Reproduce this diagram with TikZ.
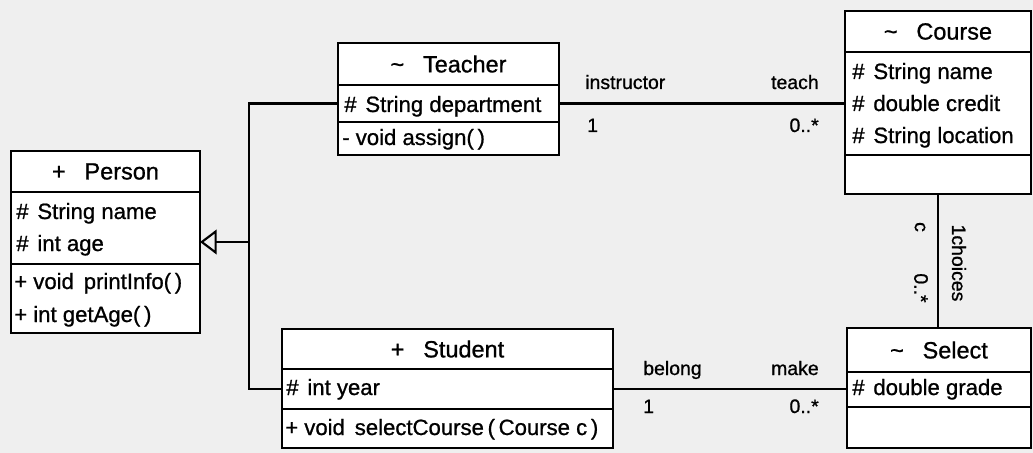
\documentclass[tikz,border=0pt]{standalone}
\usepackage{fontspec}
\setmainfont{Liberation Sans}[FakeBold=0.9]
\usetikzlibrary{arrows.meta}
\definecolor{bgc}{HTML}{EFEFEF}
\begin{document}
\begin{tikzpicture}[x=0.75pt,y=-0.75pt,
  comp/.style={draw, fill=white, line width=2pt, anchor=north west, inner sep=0pt, outer sep=0pt},
  head/.style={comp, font=\fontsize{17.6}{20}\selectfont},
  mem/.style={anchor=base west, inner sep=0pt, font=\fontsize{16.6}{20}\selectfont},
  lbl/.style={inner sep=0pt, font=\fontsize{14.6}{17}\selectfont},
  lblL/.style={lbl, anchor=base west},
  lblR/.style={lbl, anchor=base east},
  conn/.style={line width=1.6pt},
  gen/.style={conn, -{Triangle[open, length=12.5pt, width=18.5pt, line width=1.6pt]}}]
\fill[bgc] (0,0) rectangle (1033,453);
\useasboundingbox (0,0) rectangle (1033,453);

% Person
\node[head, minimum width=189*0.75pt, minimum height=41*0.75pt] (personH) at (11,151) {+\hspace{0.8em}Person};
\node[comp, minimum width=189*0.75pt, minimum height=72*0.75pt] (personA) at (11,192) {};
\node[comp, minimum width=189*0.75pt, minimum height=69*0.75pt] (personO) at (11,264) {};
\node[mem] (p1) at (16,219) {\#\hspace{0.4em}String name};
\node[mem] (p2) at (16,251) {\#\hspace{0.4em}int age};
\node[mem] (p3) at (14,289) {+ void\, printInfo(\,)};
\node[mem] (p4) at (14,322) {+ int getAge(\,)};

% Teacher
\node[head, minimum width=221*0.75pt, minimum height=42*0.75pt] (teacherH) at (338,43) {\textasciitilde\hspace{0.8em}Teacher};
\node[comp, minimum width=221*0.75pt, minimum height=37*0.75pt] (teacherA) at (338,85) {};
\node[comp, minimum width=221*0.75pt, minimum height=33*0.75pt] (teacherO) at (338,122) {};
\node[mem] (t1) at (344,112) {\#\hspace{0.4em}String department};
\node[mem] (t2) at (342,145) {- void assign(\,)};

% Course
\node[head, minimum width=186*0.75pt, minimum height=41*0.75pt] (courseH) at (845,11) {\textasciitilde\hspace{0.8em}Course};
\node[comp, minimum width=186*0.75pt, minimum height=103*0.75pt] (courseA) at (845,52) {};
\node[comp, minimum width=186*0.75pt, minimum height=39*0.75pt] (courseO) at (845,155) {};
\node[mem] (c1) at (852,79) {\#\hspace{0.4em}String name};
\node[mem] (c2) at (852,111) {\#\hspace{0.4em}double credit};
\node[mem] (c3) at (852,143) {\#\hspace{0.4em}String location};

% Student
\node[head, minimum width=331*0.75pt, minimum height=40*0.75pt] (studentH) at (282,329) {+\hspace{0.8em}Student};
\node[comp, minimum width=331*0.75pt, minimum height=40*0.75pt] (studentA) at (282,369) {};
\node[comp, minimum width=331*0.75pt, minimum height=39*0.75pt] (studentO) at (282,409) {};
\node[mem] (s1) at (286,395) {\#\hspace{0.4em}int year};
\node[mem] (s2) at (285,435) {+ void\, selectCourse\,(\,Course c\,)};

% Select
\node[head, minimum width=184*0.75pt, minimum height=44*0.75pt] (selectH) at (847,328) {\textasciitilde\hspace{0.8em}Select};
\node[comp, minimum width=184*0.75pt, minimum height=35*0.75pt] (selectA) at (847,372) {};
\node[comp, minimum width=184*0.75pt, minimum height=41*0.75pt] (selectO) at (847,407) {};
\node[mem] (e1) at (852,395) {\#\hspace{0.4em}double grade};

% Generalization
\coordinate (gj) at (249,242);
\draw[conn] (teacherA.west) -| (gj) |- (studentA.west);
\draw[gen] (gj) -- (personA.east |- gj);

% Teacher - Course
\draw[conn] (teacherA.east) -- (courseA.west);
\node[lblL] (l1) at (585,89) {instructor};
\node[lblR] (l2) at (819,89) {teach};
\node[lblL] (l3) at (587,132) {1};
\node[lblR] (l4) at (819,132) {0..*};

% Student - Select
\draw[conn] (studentA.east) -- (studentA.east -| selectA.west);
\node[lblL] (l5) at (643,375) {belong};
\node[lblR] (l6) at (819,375) {make};
\node[lblL] (l7) at (643,413) {1};
\node[lblR] (l8) at (819,413) {0..*};

% Course - Select
\draw[conn] (courseO.south) -- (courseO.south |- selectH.north);
\node[lbl, rotate=-90] (v1) at (920,227) {c};
\node[lbl, rotate=-90] (v2) at (921,288) {0..*};
\node[lbl, rotate=-90] (v3) at (959,263) {1choices};
\end{tikzpicture}
\end{document}
